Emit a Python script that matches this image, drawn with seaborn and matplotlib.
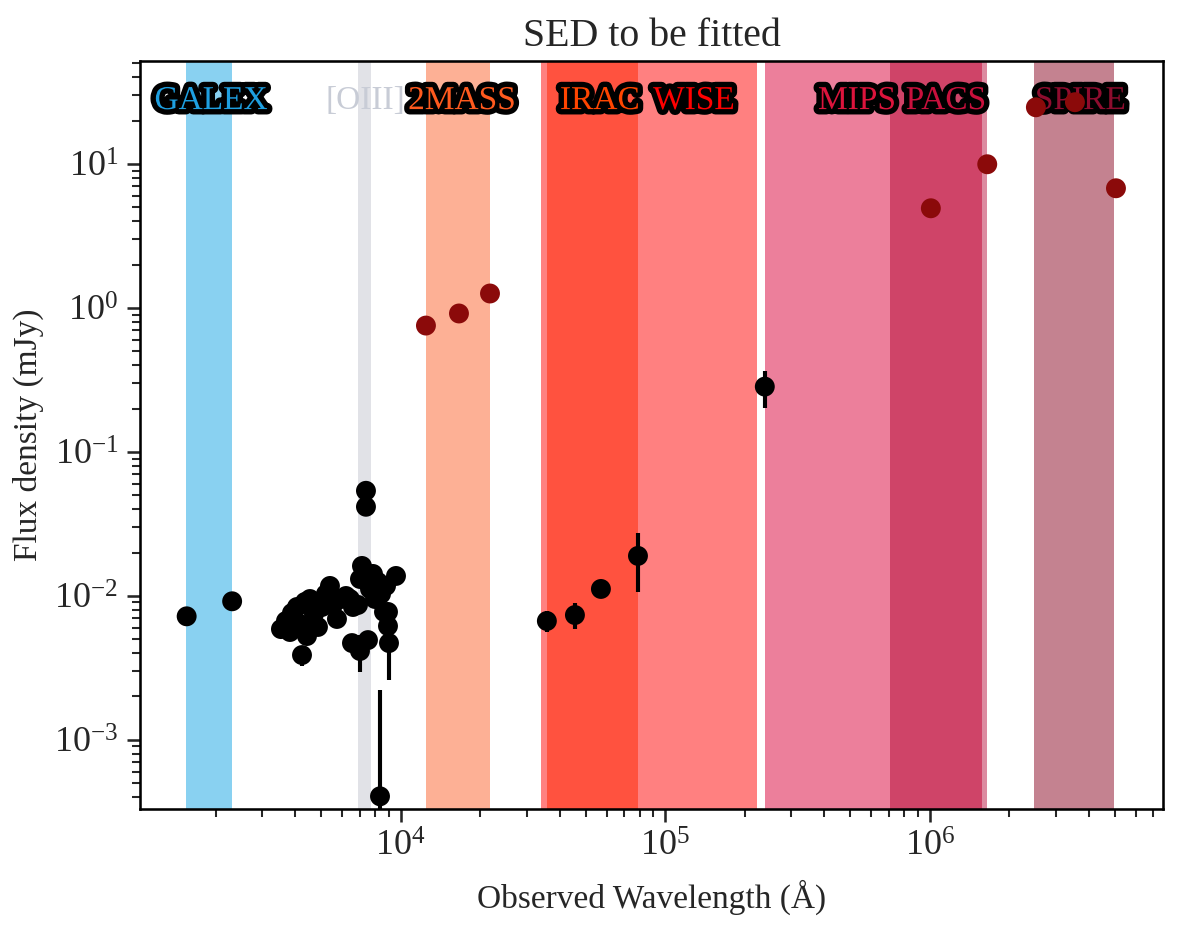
import numpy as np
import pandas as pd
import matplotlib
matplotlib.use("Agg")
import matplotlib.pyplot as plt
import matplotlib.patheffects as pe
import seaborn as sns

# ---------------- data ----------------
# photometric bands (wavelength ranges, Angstrom)
band_names = ["GALEX", "[OIII]", "2MASS", "WISE", "IRAC", "MIPS", "PACS", "MIPS160", "SPIRE"]
band_lo = [1540, 6900, 12460, 33900, 35700, 238000, 708000, 1578000, 2480000]
band_hi = [2300, 7730, 21760, 222000, 78900, 708000, 1578000, 1645000, 4980000]
band_colors = ["#89d1f1", "#e1e2e7", "#fdb095", "#ff8080", "#ff523f",
               "#ec7f9b", "#cf4468", "#dc8aa0", "#c48290"]

# band labels
label_texts = ["GALEX", "[OIII]", "2MASS", "IRAC", "WISE", "MIPS", "PACS", "SPIRE"]
label_x = [1919, 7330, 17060, 56600, 128500, 531000, 1151000, 3710000]
label_colors = ["#1e9fe0", "#c8ccd6", "#ff5a1e", "#ff4500", "#ff0000",
                "#dc143c", "#c8103c", "#8e0c2e"]
label_stroke = [True, False, True, True, True, True, True, True]
label_y = 27.5

# observed photometry with errors (black)
obs_wave = [1552, 2306,
            3527, 3684, 3815, 3882, 4055, 4163, 4236, 4348, 4424, 4540,
            4701, 4867, 5039, 5218, 5403, 5546, 5743, 5947, 6212, 6432,
            6603, 6545, 6896, 7017, 7140, 7017, 7392, 7392, 7522, 7656,
            7858, 7997, 8208, 8426, 8649, 8802, 8954, 8954, 9033, 9600, 8353,
            35700, 45580, 57150, 78900, 238000]
obs_flux = [0.00721, 0.00917,
            0.00588, 0.00669, 0.00561, 0.0076, 0.00837, 0.00637, 0.00388, 0.00907, 0.00526, 0.00951,
            0.00748, 0.00608, 0.00837, 0.0103, 0.01172, 0.00865, 0.00691, 0.00951, 0.00998, 0.00951,
            0.00837, 0.0047, 0.00865, 0.00414, 0.01614, 0.0131, 0.0537, 0.0416, 0.00493, 0.01117,
            0.0142, 0.00951, 0.01249, 0.0103, 0.00773, 0.01172, 0.00773, 0.00617, 0.0047, 0.01375, 0.000405,
            0.00669, 0.00736, 0.01117, 0.01895, 0.2843]
obs_err = [0.0002, 0.0002,
           0.0002, 0.0002, 0.0002, 0.0002, 0.0002, 0.0002, 0.0006, 0.0002, 0.0002, 0.0002,
           0.0002, 0.0002, 0.0002, 0.0003, 0.0003, 0.0002, 0.0002, 0.0002, 0.0002, 0.0002,
           0.0002, 0.0002, 0.0002, 0.0012, 0.0004, 0.0003, 0.001, 0.001, 0.0002, 0.0003,
           0.0003, 0.0002, 0.0003, 0.0003, 0.0002, 0.0003, 0.0002, 0.0002, 0.0021, 0.0003, 0.0018,
           0.0011, 0.0015, 0.0004, 0.0083, 0.083]

# photometry without errors (dark red)
red_wave = [12460, 16610, 21760, 1010000, 1650000, 2520000, 3540000, 5060000]
red_flux = [0.755, 0.916, 1.261, 4.93, 9.97, 24.8, 26.9, 6.79]

# ---------------- style ----------------
sns.set_style("ticks")
plt.rcParams["font.family"] = ["Liberation Serif", "DejaVu Serif"]
plt.rcParams["mathtext.fontset"] = "stix"
plt.rcParams["axes.linewidth"] = 1.0

fig = plt.figure(figsize=(1182 / 185, 925 / 185), dpi=185)
ax = fig.add_axes([140 / 1182, 1 - 809.3 / 925, (1163 - 140) / 1182, (809.3 - 61) / 925])

ax.set_xscale("log")
ax.set_yscale("log")

for lo, hi, c in zip(band_lo, band_hi, band_colors):
    ax.axvspan(lo, hi, color=c, lw=0, zorder=0)

for t, x, c, s in zip(label_texts, label_x, label_colors, label_stroke):
    kw = {}
    if s:
        kw["path_effects"] = [pe.withStroke(linewidth=4.2, foreground="black")]
    ax.text(x, label_y, t, color=c, fontsize=13, ha="center", va="center", zorder=3, **kw)

obs = pd.DataFrame({"wave": obs_wave, "flux": obs_flux, "err": obs_err})
ax.errorbar(obs["wave"], obs["flux"], yerr=obs["err"], fmt="none",
            ecolor="black", elinewidth=1.6, zorder=5)
sns.scatterplot(data=obs, x="wave", y="flux", color="black", s=60,
                edgecolor="none", ax=ax, zorder=6)

red = pd.DataFrame({"wave": red_wave, "flux": red_flux})
sns.scatterplot(data=red, x="wave", y="flux", color="#8b0a0a", s=60,
                edgecolor="none", ax=ax, zorder=6)

ax.set_xlim(1034, 7.62e6)
ax.set_ylim(3.29e-4, 52)

ax.set_xlabel("Observed Wavelength (Å)", fontsize=13, labelpad=6)
ax.set_ylabel("Flux density (mJy)", fontsize=13)
ax.set_title("SED to be fitted", fontsize=15.5, pad=6)
ax.tick_params(axis="both", which="major", labelsize=14, length=5, width=1)
ax.tick_params(axis="both", which="minor", length=3, width=0.8)
for sp in ax.spines.values():
    sp.set_visible(True)
    sp.set_color("black")

fig.savefig("out.png", dpi=185)
